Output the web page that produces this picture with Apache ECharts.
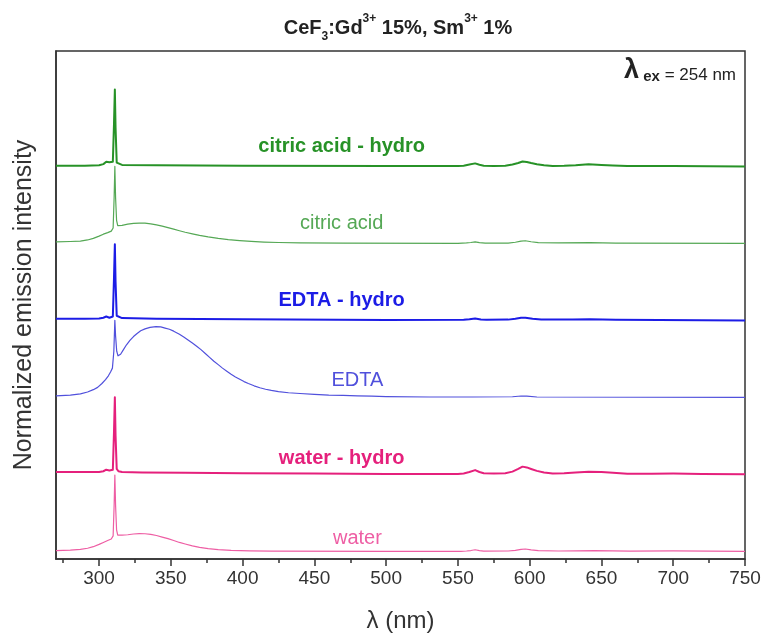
<!DOCTYPE html>
<html>
<head>
<meta charset="utf-8">
<script src="https://cdn.jsdelivr.net/npm/echarts@6/dist/echarts.min.js"></script>
<style>
  html, body { margin: 0; padding: 0; background: #ffffff; }
  #chart { width: 766px; height: 639px; }
</style>
</head>
<body>
<div id="chart"></div>
<script>
// Emission spectra of CeF3:Gd3+ 15%, Sm3+ 1% (excitation 254 nm).
// Each spectrum is normalised to its 311 nm maximum and stacked with a vertical offset.

const majorTicks = [300, 350, 400, 450, 500, 550, 600, 650, 700, 750];
const minorTicks = [275, 325, 375, 425, 475, 525, 575, 625, 675, 725];

const seriesNames = ['water', 'water - hydro', 'EDTA', 'EDTA - hydro', 'citric acid', 'citric acid - hydro'];
const offsets = [0, 1, 2, 3, 4, 5];

// [wavelength nm, normalised intensity]
const water = [
  [270, 0.01], [280, 0.015], [287, 0.025], [292, 0.04], [296, 0.06], [300, 0.09], [303, 0.115],
  [306, 0.14], [308.5, 0.16], [309.8, 0.2], [310.5, 0.6], [311, 0.99], [311.5, 0.6], [312.2, 0.28],
  [313, 0.21], [316, 0.21], [320, 0.215], [324, 0.225], [328, 0.23], [332, 0.228], [336, 0.22],
  [340, 0.205], [344, 0.185], [348, 0.165], [352, 0.14], [356, 0.115], [360, 0.095], [365, 0.07],
  [370, 0.05], [376, 0.035], [383, 0.022], [392, 0.012], [405, 0.006], [420, 0.003], [500, 0],
  [552, 0], [556, 0.004], [559, 0.01], [562, 0.02], [565, 0.008], [568, 0.003], [585, 0.004],
  [590, 0.012], [594, 0.025], [597, 0.03], [601, 0.018], [606, 0.008], [620, 0.004], [645, 0.01],
  [670, 0.003], [700, 0.005], [750, 0]
];

const waterHydro = [
  [270, 0.03], [290, 0.03], [300, 0.03], [303, 0.04], [305, 0.06], [306, 0.07], [307.2, 0.05],
  [308.5, 0.045], [309.6, 0.06], [310.4, 0.55], [311, 1.0], [311.5, 0.5], [312.3, 0.07], [313.5, 0.04],
  [316, 0.03], [330, 0.025], [360, 0.02], [400, 0.015], [450, 0.01], [500, 0.005], [550, 0.005],
  [554, 0.012], [558, 0.03], [562, 0.055], [565, 0.03], [568, 0.015], [575, 0.01], [583, 0.015],
  [588, 0.035], [592, 0.07], [595, 0.1], [598, 0.09], [601, 0.07], [605, 0.045], [610, 0.025],
  [616, 0.012], [624, 0.015], [632, 0.025], [641, 0.035], [650, 0.03], [658, 0.02], [668, 0.008],
  [685, 0.008], [700, 0.01], [720, 0.005], [750, 0]
];

const edta = [
  [270, 0.02], [280, 0.03], [287, 0.045], [292, 0.07], [296, 0.1], [299, 0.13], [302, 0.18],
  [304.5, 0.23], [306.5, 0.28], [308, 0.33], [309.3, 0.38], [310.3, 0.6], [311, 1.0], [311.5, 0.8],
  [312.3, 0.6], [313.2, 0.54], [315, 0.56], [317, 0.62], [319, 0.68], [321.5, 0.74], [324, 0.79],
  [326.5, 0.83], [329, 0.865], [332, 0.89], [335.5, 0.91], [339.6, 0.92], [343, 0.915], [346, 0.9],
  [349, 0.885], [352, 0.86], [356, 0.82], [359, 0.785], [362, 0.745], [365, 0.705], [368, 0.665],
  [371, 0.62], [374, 0.57], [377, 0.52], [380, 0.47], [383, 0.425], [386, 0.38], [389, 0.34],
  [392, 0.3], [395, 0.265], [398, 0.235], [401, 0.205], [404, 0.18], [408, 0.15], [412, 0.125],
  [416, 0.105], [420, 0.09], [425, 0.075], [432, 0.06], [440, 0.05], [450, 0.04], [460, 0.03],
  [470, 0.025], [480, 0.02], [490, 0.015], [500, 0.01], [530, 0.005], [560, 0.005], [588, 0.008],
  [594, 0.018], [598, 0.015], [605, 0.005], [750, 0]
];

const edtaHydro = [
  [270, 0.02], [290, 0.02], [300, 0.025], [303, 0.035], [305, 0.05], [306, 0.06], [307.2, 0.035],
  [308.5, 0.03], [309.6, 0.05], [310.4, 0.55], [311, 0.99], [311.5, 0.5], [312.3, 0.06], [313.5, 0.035],
  [316, 0.03], [340, 0.02], [400, 0.015], [500, 0.005], [554, 0.008], [558, 0.015], [562, 0.025],
  [566, 0.012], [570, 0.008], [585, 0.01], [590, 0.02], [594, 0.035], [597, 0.035], [602, 0.02],
  [608, 0.012], [630, 0.01], [642, 0.015], [660, 0.008], [750, 0]
];

const citric = [
  [270, 0.02], [280, 0.025], [287, 0.03], [292, 0.045], [296, 0.065], [300, 0.095], [303, 0.12],
  [306, 0.14], [308.5, 0.16], [309.8, 0.2], [310.5, 0.6], [311, 1.0], [311.5, 0.6], [312.2, 0.3],
  [313, 0.23], [316, 0.235], [320, 0.25], [324, 0.26], [328, 0.265], [332, 0.263], [336, 0.255],
  [340, 0.24], [344, 0.225], [348, 0.205], [352, 0.185], [356, 0.165], [360, 0.145], [365, 0.125],
  [370, 0.105], [376, 0.085], [383, 0.065], [390, 0.05], [398, 0.037], [406, 0.027], [415, 0.018],
  [425, 0.012], [440, 0.007], [470, 0.004], [550, 0], [556, 0.006], [559, 0.012], [562, 0.02],
  [565, 0.01], [569, 0.004], [585, 0.005], [590, 0.015], [594, 0.03], [597, 0.035], [601, 0.022],
  [606, 0.01], [620, 0.006], [642, 0.01], [660, 0.004], [750, 0]
];

const citricHydro = [
  [270, 0.01], [290, 0.01], [300, 0.015], [303, 0.03], [305, 0.06], [306, 0.08], [307.2, 0.055],
  [308.5, 0.045], [309.6, 0.06], [310.4, 0.55], [311, 1.0], [311.5, 0.5], [312.3, 0.05], [313.5, 0.025],
  [316, 0.02], [340, 0.015], [400, 0.01], [500, 0.005], [550, 0.005], [554, 0.01], [558, 0.025],
  [562, 0.04], [565, 0.022], [568, 0.01], [575, 0.005], [583, 0.01], [588, 0.025], [592, 0.045],
  [595, 0.065], [598, 0.058], [601, 0.045], [605, 0.03], [610, 0.015], [616, 0.006], [624, 0.008],
  [632, 0.015], [641, 0.028], [650, 0.02], [658, 0.012], [668, 0.005], [700, 0.005], [750, 0]
];

const spectra = [water, waterHydro, edta, edtaHydro, citric, citricHydro];

const colors = ['#ee5ea4', '#e5207c', '#5050dc', '#1c1ce6', '#55a855', '#279227'];
const widths = [1.2, 2, 1.2, 2, 1.2, 2];
// caption anchor per spectrum: [wavelength, height above its offset], bold flag
const labelSpots = [[480, 0.165, false], [469, 0.2, true], [480, 0.225, false], [469, 0.255, true], [469, 0.255, false], [469, 0.255, true]];

const SANS = "'Liberation Sans',Arial,Helvetica,sans-serif";
const AXIS = '#333333';
const INK = '#222222';

const chart = echarts.init(document.getElementById('chart'), null, { renderer: 'canvas' });

const series = spectra.map((pts, i) => ({
  name: seriesNames[i],
  type: 'line',
  data: pts.map(p => [p[0], p[1] + offsets[i]]),
  showSymbol: false,
  symbol: 'none',
  clip: true,
  lineStyle: { color: colors[i], width: widths[i], join: 'round' },
  z: 3 + i
}));

chart.setOption({
  animation: false,
  backgroundColor: '#ffffff',
  grid: {
    left: 56, right: 21, top: 51, bottom: 80,
    show: true, borderColor: AXIS, borderWidth: 1.5, backgroundColor: 'transparent'
  },
  xAxis: [
    {
      type: 'value', min: 270, max: 750,
      name: 'λ (nm)', nameLocation: 'middle', nameGap: 50,
      nameTextStyle: { fontFamily: SANS, fontSize: 24, color: AXIS },
      axisLine: { show: true, onZero: false, lineStyle: { color: AXIS, width: 1.5 } },
      axisTick: { show: true, inside: false, length: 7, customValues: majorTicks, lineStyle: { color: AXIS, width: 1.5 } },
      axisLabel: { show: true, customValues: majorTicks, margin: 10, fontFamily: SANS, fontSize: 19, color: AXIS },
      splitLine: { show: false }
    },
    {
      type: 'value', min: 270, max: 750, position: 'bottom',
      axisLine: { show: false, onZero: false },
      axisTick: { show: true, inside: false, length: 4, customValues: minorTicks, lineStyle: { color: AXIS, width: 1.5 } },
      axisLabel: { show: false },
      splitLine: { show: false }
    }
  ],
  yAxis: {
    type: 'value', min: -0.1, max: 6.5,
    name: 'Normalized emission intensity', nameLocation: 'middle', nameGap: 19, nameRotate: 90,
    nameTextStyle: { fontFamily: SANS, fontSize: 25, color: AXIS },
    axisLine: { show: true, lineStyle: { color: AXIS, width: 1.5 } },
    axisTick: { show: false },
    axisLabel: { show: false },
    splitLine: { show: false }
  },
  series: series
});

// Series captions placed in data space next to each spectrum
const captions = labelSpots.map((s, i) => {
  const p = chart.convertToPixel({ gridIndex: 0 }, [s[0], offsets[i] + s[1]]);
  return {
    type: 'text', x: p[0], y: p[1], z: 20,
    style: {
      text: seriesNames[i], fill: colors[i],
      font: (s[2] ? 'bold ' : '') + '20px ' + SANS,
      textAlign: 'center', textVerticalAlign: 'middle'
    }
  };
});

chart.setOption({
  graphic: captions.concat([
    {
      type: 'text', x: 398, y: 28, z: 20,
      style: {
        text: '{b|CeF}{sub|3}{b|:Gd}{sup|3+}{b| 15%, Sm}{sup|3+}{b| 1%}',
        textAlign: 'center', textVerticalAlign: 'middle',
        rich: {
          b: { fontFamily: SANS, fontWeight: 'bold', fontSize: 20, lineHeight: 30, fill: INK, verticalAlign: 'middle' },
          sup: { fontFamily: SANS, fontWeight: 'bold', fontSize: 12, lineHeight: 18, fill: INK, verticalAlign: 'top' },
          sub: { fontFamily: SANS, fontWeight: 'bold', fontSize: 12, lineHeight: 16, fill: INK, verticalAlign: 'bottom' }
        }
      }
    },
    {
      type: 'text', x: 736, y: 70, z: 20,
      style: {
        text: '{l|λ}{e| ex}{n| = 254 nm}',
        textAlign: 'right', textVerticalAlign: 'middle',
        rich: {
          l: { fontFamily: SANS, fontWeight: 'bold', fontSize: 27, lineHeight: 28, fill: INK, verticalAlign: 'bottom' },
          e: { fontFamily: SANS, fontWeight: 'bold', fontSize: 15, lineHeight: 20, fill: INK, verticalAlign: 'bottom' },
          n: { fontFamily: SANS, fontSize: 17, lineHeight: 20, fill: INK, verticalAlign: 'bottom' }
        }
      }
    }
  ])
});
</script>
</body>
</html>
